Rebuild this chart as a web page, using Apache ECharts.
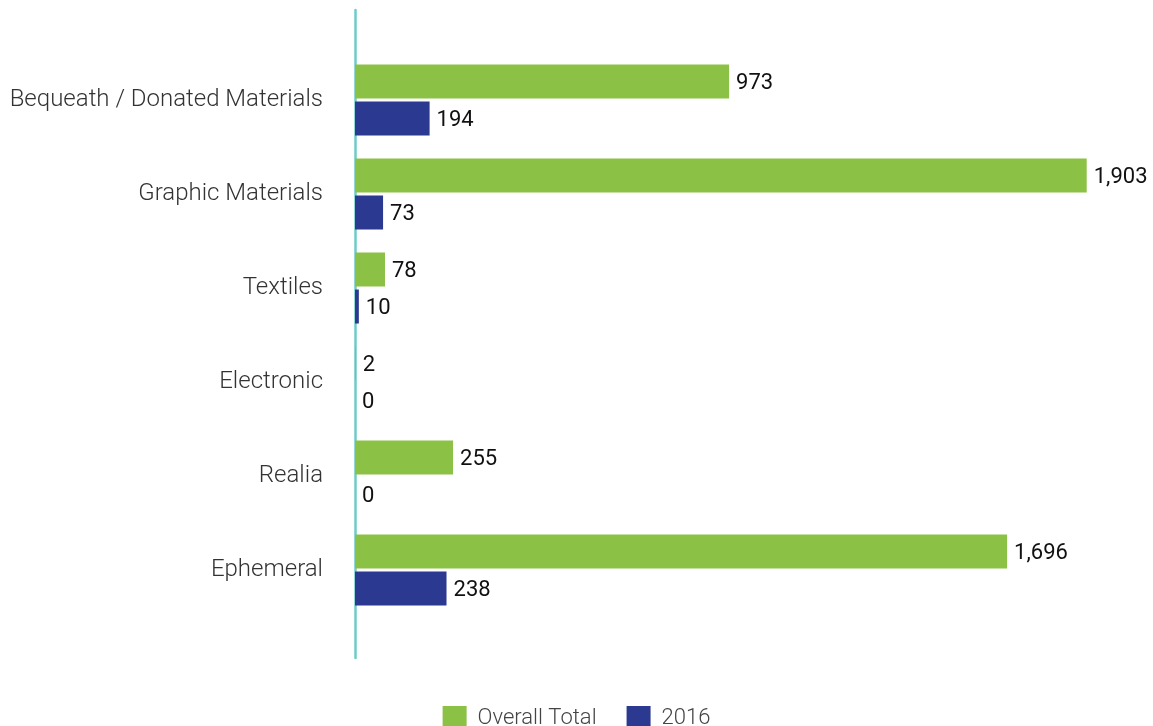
<!DOCTYPE html>
<html><head><meta charset="utf-8">
<script src="https://cdn.jsdelivr.net/npm/echarts@6/dist/echarts.min.js"></script>
<style>html,body{margin:0;padding:0;background:#fff}#c{width:1153px;height:726px}</style>
</head><body><div id="c"></div>
<script>
const categories = ["Bequeath / Donated Materials","Graphic Materials","Textiles","Electronic","Realia","Ephemeral"];
const overallTotal = [973, 1903, 78, 2, 255, 1696];
const y2016 = [194, 73, 10, 0, 0, 238];
const seriesNames = ["Overall Total", "2016"];

const chart = echarts.init(document.getElementById('c'));
const lbl = {show:true, position:'right', distance:7, color:'#111', fontFamily:'Roboto', fontSize:22,
  offset:[0,2], formatter: p => p.value.toLocaleString('en-US')};
chart.setOption({
  animation:false,
  legend:{top:701, left:'center', itemWidth:24, itemHeight:24, itemGap:30, icon:'rect',
    textStyle:{fontFamily:'Roboto', fontSize:22, color:'#444', fontWeight:300, padding:[2,0,0,6]}, data:seriesNames},
  grid:[
    {left:355, right:29, top:53, height:564},
    {left:355, right:29, top:10, bottom:68}
  ],
  xAxis:[
    {type:'value', gridIndex:0, min:0, max:2000, show:false},
    {type:'value', gridIndex:1, min:0, max:2000, show:false}
  ],
  yAxis:[
    {type:'category', gridIndex:0, data:categories, inverse:true,
     axisLine:{show:false}, axisTick:{show:false}, splitLine:{show:false},
     axisLabel:{margin:32, fontFamily:'Roboto', fontSize:24, color:'#333', fontWeight:300, padding:[4,0,0,0]}},
    {type:'value', gridIndex:1, axisLine:{show:true, lineStyle:{color:'#6ECBC8', width:2.5}},
     axisTick:{show:false}, axisLabel:{show:false}, splitLine:{show:false}}
  ],
  series:[
    {name:seriesNames[0], type:'bar', xAxisIndex:0, yAxisIndex:0, data:overallTotal, barWidth:34, barGap:'9%',
     itemStyle:{color:'#8BC145'}, label:lbl},
    {name:seriesNames[1], type:'bar', xAxisIndex:0, yAxisIndex:0, data:y2016, barWidth:34, barGap:'9%',
     itemStyle:{color:'#2B3990'}, label:lbl}
  ]
});
</script></body></html>
